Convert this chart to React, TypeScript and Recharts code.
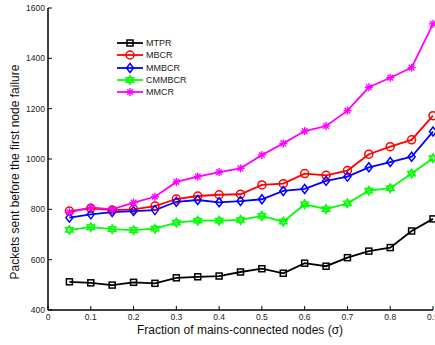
import { LineChart, Line, XAxis, YAxis, Legend } from "recharts";

// fraction of mains-connected nodes
const sigma = [0.05, 0.1, 0.15, 0.2, 0.25, 0.3, 0.35, 0.4, 0.45, 0.5, 0.55, 0.6, 0.65, 0.7, 0.75, 0.8, 0.85, 0.9];

const mtpr = [512, 508, 499, 510, 506, 528, 532, 535, 551, 564, 546, 586, 574, 608, 634, 648, 714, 762];
const mbcr = [793, 804, 797, 800, 813, 841, 853, 858, 860, 897, 902, 942, 935, 954, 1019, 1049, 1076, 1172];
const mmbcr = [767, 780, 789, 793, 797, 830, 837, 828, 833, 840, 873, 881, 913, 930, 967, 988, 1009, 1109];
const cmmbcr = [718, 729, 721, 717, 723, 747, 755, 755, 758, 774, 751, 820, 801, 824, 874, 884, 942, 1003];
const mmcr = [788, 808, 800, 827, 850, 909, 930, 948, 963, 1016, 1062, 1111, 1131, 1192, 1285, 1323, 1363, 1537];

const xTicks = [0, 0.1, 0.2, 0.3, 0.4, 0.5, 0.6, 0.7, 0.8, 0.9];
const yTicks = [400, 600, 800, 1000, 1200, 1400, 1600];

type MarkerType = "square" | "circle" | "diamond" | "hexagram" | "asterisk";

const series: { key: string; values: number[]; color: string; marker: MarkerType }[] = [
  { key: "MTPR", values: mtpr, color: "#000000", marker: "square" },
  { key: "MBCR", values: mbcr, color: "#ff0000", marker: "circle" },
  { key: "MMBCR", values: mmbcr, color: "#0000ff", marker: "diamond" },
  { key: "CMMBCR", values: cmmbcr, color: "#00ff00", marker: "hexagram" },
  { key: "MMCR", values: mmcr, color: "#ff00ff", marker: "asterisk" },
];

const data = sigma.map((s, i) => {
  const row: Record<string, number> = { sigma: s };
  series.forEach((ser) => {
    row[ser.key] = ser.values[i];
  });
  return row;
});

const FONT = "'Liberation Sans', Arial, sans-serif";

const Marker = ({ type, cx, cy, color }: { type: MarkerType; cx: number; cy: number; color: string }) => {
  if (cx == null || cy == null) return null;
  const sw = 1.5;
  switch (type) {
    case "square":
      return <rect x={cx - 3} y={cy - 3} width={6} height={6} fill="none" stroke={color} strokeWidth={sw} />;
    case "circle":
      return <circle cx={cx} cy={cy} r={4} fill="none" stroke={color} strokeWidth={sw} />;
    case "diamond":
      return (
        <polygon
          points={`${cx},${cy - 4.5} ${cx + 3.5},${cy} ${cx},${cy + 4.5} ${cx - 3.5},${cy}`}
          fill="none"
          stroke={color}
          strokeWidth={sw}
        />
      );
    case "hexagram": {
      const r = 4.5;
      const tri = (start: number) =>
        [0, 120, 240]
          .map((a) => {
            const t = ((start + a) * Math.PI) / 180;
            return `${cx + r * Math.cos(t)},${cy + r * Math.sin(t)}`;
          })
          .join(" ");
      return (
        <g fill="none" stroke={color} strokeWidth={1.3}>
          <polygon points={tri(-90)} />
          <polygon points={tri(90)} />
        </g>
      );
    }
    case "asterisk": {
      const r = 4;
      const d = r * 0.7071;
      return (
        <g stroke={color} strokeWidth={1.4}>
          <line x1={cx - r} y1={cy} x2={cx + r} y2={cy} />
          <line x1={cx} y1={cy - r} x2={cx} y2={cy + r} />
          <line x1={cx - d} y1={cy - d} x2={cx + d} y2={cy + d} />
          <line x1={cx - d} y1={cy + d} x2={cx + d} y2={cy - d} />
        </g>
      );
    }
  }
  return null;
};

const fmtX = (v: number) => (v === 0 ? "0" : v.toFixed(1));

const BottomTick = ({ x, y, payload }: any) => (
  <g>
    <line x1={x} y1={y} x2={x} y2={y - 4} stroke="#000" strokeWidth={1} />
    <text x={x} y={y + 10} textAnchor="middle" fontSize={8.5} fill="#222" fontFamily={FONT}>
      {fmtX(payload.value)}
    </text>
  </g>
);

const LeftTick = ({ x, y, payload }: any) => (
  <g>
    <line x1={x} y1={y} x2={x + 4} y2={y} stroke="#000" strokeWidth={1} />
    <text x={x - 3} y={y + 3} textAnchor="end" fontSize={8.5} fill="#222" fontFamily={FONT}>
      {payload.value}
    </text>
  </g>
);

const TopTick = ({ x, y }: any) => <line x1={x} y1={y} x2={x} y2={y + 4} stroke="#000" strokeWidth={1} />;

const RightTick = ({ x, y }: any) => <line x1={x} y1={y} x2={x - 4} y2={y} stroke="#000" strokeWidth={1} />;

const LegendContent = () => (
  <div style={{ fontFamily: FONT, fontSize: 9, color: "#222" }}>
    {series.map((s) => (
      <div key={s.key} style={{ display: "flex", alignItems: "center", height: 12.25 }}>
        <svg width={28} height={12} style={{ display: "block" }}>
          <line x1={1} y1={6} x2={27} y2={6} stroke={s.color} strokeWidth={1.8} />
          <Marker type={s.marker} cx={14} cy={6} color={s.color} />
        </svg>
        <span style={{ marginLeft: 2, lineHeight: "12px" }}>{s.key}</span>
      </div>
    ))}
  </div>
);

export default function App() {
  return (
    <div
      style={{
        position: "absolute",
        left: 0,
        top: 0,
        width: 435,
        height: 345,
        overflow: "hidden",
        background: "#fff",
      }}
    >
      <LineChart width={445} height={345} data={data} margin={{ top: 8, right: 12, bottom: 0, left: 0 }}>
        <XAxis
          dataKey="sigma"
          type="number"
          domain={[0, 0.9]}
          ticks={xTicks}
          interval={0}
          tickLine={false}
          tickSize={0}
          tickMargin={0}
          tick={<BottomTick />}
          axisLine={{ stroke: "#000", strokeWidth: 1.5 }}
          height={35}
        />
        <XAxis
          xAxisId="top"
          orientation="top"
          dataKey="sigma"
          type="number"
          domain={[0, 0.9]}
          ticks={xTicks}
          interval={0}
          tickLine={false}
          tickSize={0}
          tickMargin={0}
          tick={<TopTick />}
          axisLine={{ stroke: "#000", strokeWidth: 1 }}
          height={0}
        />
        <YAxis
          type="number"
          domain={[400, 1600]}
          ticks={yTicks}
          interval={0}
          tickLine={false}
          tickSize={0}
          tickMargin={0}
          tick={<LeftTick />}
          axisLine={{ stroke: "#000", strokeWidth: 1.5 }}
          width={48}
        />
        <YAxis
          yAxisId="right"
          orientation="right"
          type="number"
          domain={[400, 1600]}
          ticks={yTicks}
          interval={0}
          tickLine={false}
          tickSize={0}
          tickMargin={0}
          tick={<RightTick />}
          axisLine={{ stroke: "#000", strokeWidth: 1 }}
          width={0}
        />
        <Legend
          layout="vertical"
          align="center"
          verticalAlign="middle"
          content={<LegendContent />}
          wrapperStyle={{ left: 116, top: 37, width: 100, height: 62 }}
        />
        {series.map((s) => (
          <Line
            key={s.key}
            dataKey={s.key}
            stroke={s.color}
            strokeWidth={1.8}
            isAnimationActive={false}
            dot={(p: any) => <Marker key={`${s.key}-${p.index}`} type={s.marker} cx={p.cx} cy={p.cy} color={s.color} />}
            activeDot={false}
          />
        ))}
      </LineChart>
      <div
        style={{
          position: "absolute",
          left: 0,
          top: 325,
          width: 480,
          textAlign: "center",
          fontFamily: FONT,
          fontSize: 12,
          lineHeight: "11px",
          color: "#111",
          whiteSpace: "nowrap",
        }}
      >
        Fraction of mains-connected nodes (σ)
      </div>
      <div
        style={{
          position: "absolute",
          left: 14.5,
          top: 172,
          transform: "translate(-50%, -50%) rotate(-90deg)",
          fontFamily: FONT,
          fontSize: 12,
          lineHeight: "14px",
          color: "#111",
          whiteSpace: "nowrap",
        }}
      >
        Packets sent before the first node failure
      </div>
    </div>
  );
}
